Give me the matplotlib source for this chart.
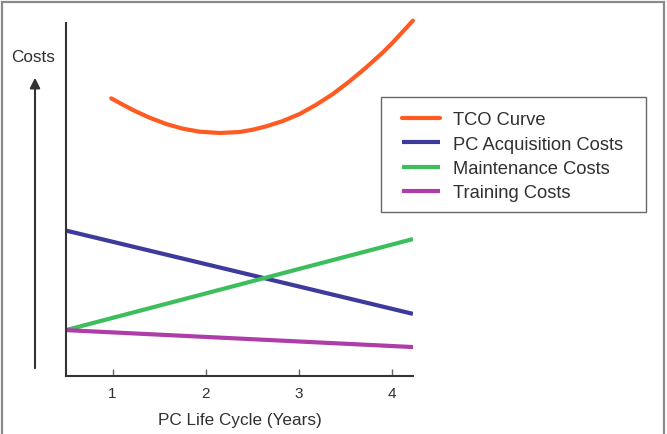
import matplotlib
matplotlib.use("Agg")
import matplotlib.pyplot as plt
from matplotlib.patches import Rectangle, FancyArrowPatch

plt.rcParams['font.family'] = ['Liberation Sans', 'DejaVu Sans']

# ---- data (y in arbitrary cost units 0..100) ----
tco_years = [0.986, 1.111, 1.219, 1.398, 1.577, 1.756, 1.935, 2.151, 2.366, 2.509,
             2.652, 2.832, 3.011, 3.190, 3.369, 3.548, 3.728, 3.907, 4.014, 4.229]
tco_costs = [78.66, 76.86, 75.35, 73.18, 71.39, 70.06, 69.22, 68.84, 69.12, 69.78,
             70.73, 72.24, 74.22, 76.86, 79.89, 83.48, 87.44, 91.69, 94.52, 100.66]

line_years = [0.5, 4.23]
acquisition_costs = [41.2, 17.6]
maintenance_costs = [13.0, 38.8]
training_costs = [13.0, 8.2]

series_labels = ["TCO Curve", "PC Acquisition Costs", "Maintenance Costs", "Training Costs"]
xticks = [1, 2, 3, 4]
xlabel = "PC Life Cycle (Years)"
ylabel = "Costs"

colors = ["#FF5A22", "#3D3A9C", "#3DBE5C", "#AE3DA8"]
text_color = "#303030"

fig = plt.figure(figsize=(6.67, 4.35), dpi=100)
W, H = 667, 435

# outer border
fig.patches.append(Rectangle((2 / W, -0.01), 662 / W, 1.01 - 3 / H,
                             transform=fig.transFigure, fill=False,
                             edgecolor="#8a8a8a", linewidth=1.6))

ax = fig.add_axes([66 / W, 1 - 377 / H, (413 - 66) / W, (377 - 24) / H])
ax.set_xlim(0.5, 4.23)
ax.set_ylim(0, 100)

lw = 3.0
ax.plot(tco_years, tco_costs, color=colors[0], lw=lw, label=series_labels[0],
        solid_capstyle="round", solid_joinstyle="round", clip_on=False)
ax.plot(line_years, acquisition_costs, color=colors[1], lw=lw, label=series_labels[1],
        solid_capstyle="butt")
ax.plot(line_years, maintenance_costs, color=colors[2], lw=lw, label=series_labels[2],
        solid_capstyle="butt")
ax.plot(line_years, training_costs, color=colors[3], lw=lw, label=series_labels[3],
        solid_capstyle="butt")

for s in ["top", "right"]:
    ax.spines[s].set_visible(False)
for s in ["left", "bottom"]:
    ax.spines[s].set_color("#333333")
    ax.spines[s].set_linewidth(1.5)

ax.set_yticks([])
ax.set_xticks(xticks)
ax.tick_params(axis="x", direction="in", length=5, width=1, color="#666666",
               labelsize=11, labelcolor=text_color, pad=7)
ax.set_xlabel(xlabel, fontsize=12.3, color=text_color, labelpad=9)

# legend frame (drawn separately for exact box geometry)
fig.patches.append(Rectangle((381 / W, 1 - 213 / H), (646 - 381) / W, (213 - 98) / H,
                             transform=fig.transFigure, fill=True, facecolor="white",
                             edgecolor="#666666", linewidth=1.0, zorder=3))

fs_leg = 13.2
leg = fig.legend(*ax.get_legend_handles_labels(), loc="upper left",
                 bbox_to_anchor=(402 / W, 1 - 112.5 / H),
                 bbox_transform=fig.transFigure, fontsize=fs_leg, frameon=False,
                 handlelength=38 / (fs_leg * 100 / 72), handletextpad=13 / (fs_leg * 100 / 72),
                 borderpad=0, labelspacing=0.40, borderaxespad=0)
leg.set_zorder(4)
for t in leg.get_texts():
    t.set_color(text_color)

# y-axis "Costs" arrow and label
fig.patches.append(FancyArrowPatch((35 / W, 1 - 372 / H), (35 / W, 1 - 76 / H),
                                   transform=fig.transFigure,
                                   arrowstyle="-|>,head_length=4,head_width=2",
                                   color="#333333", linewidth=1.5, mutation_scale=1.5))
fig.text(33 / W, 1 - 57 / H, ylabel, ha="center", va="center", fontsize=12.3, color=text_color)

fig.savefig("out.png", dpi=100)
